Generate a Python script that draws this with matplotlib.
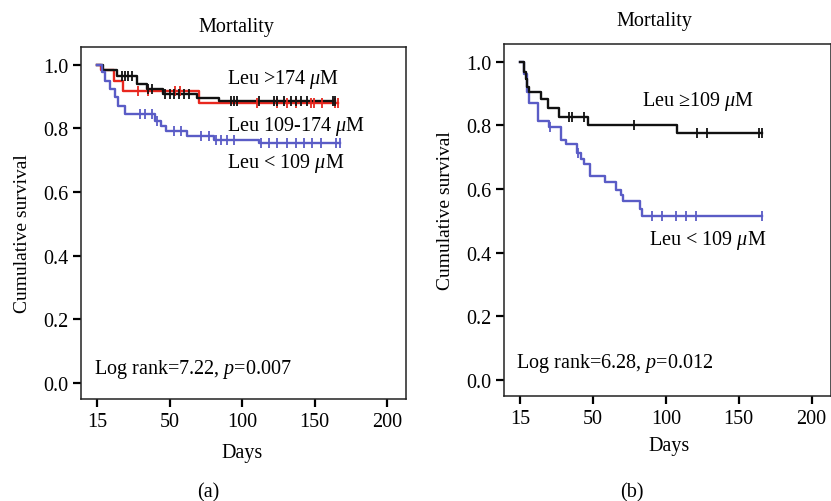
import numpy as np
import matplotlib.pyplot as plt

plt.rcParams['font.family'] = ['Liberation Serif', 'DejaVu Serif']
plt.rcParams['mathtext.fontset'] = 'custom'
plt.rcParams['mathtext.rm'] = 'Liberation Serif'
plt.rcParams['mathtext.it'] = 'Liberation Serif:italic'

# ---- panel (a): three leucine groups ----
a_hi_days = [0, 4.1, 13.7, 27.4, 34.2, 45.2, 69.2, 84.2, 164.4]
a_hi_surv = [1.0, 0.985, 0.966, 0.940, 0.924, 0.910, 0.896, 0.887, 0.887]
a_hi_cens = [17.1, 19.2, 21.2, 24.0, 34.9, 37.7, 46.6, 50.0, 53.4, 56.8, 60.3, 63.7,
             92.5, 94.5, 96.6, 111.6, 121.9, 123.9, 128.8, 133.6, 137.0, 140.4,
             144.5, 163.0, 164.4]

a_mid_days = [0, 2.7, 11.6, 17.8, 70.5, 166.4]
a_mid_surv = [1.0, 0.985, 0.950, 0.919, 0.879, 0.879]
a_mid_cens = [28.1, 34.9, 54.1, 57.5, 110.3, 124.0, 130.8, 137.0, 147.3, 149.3,
              154.8, 164.4, 166.4]

a_lo_days = [0, 3.2, 5.5, 8.9, 12.3, 14.6, 19.2, 39.7, 44.3, 47.7, 62.3, 80.8, 111.6, 167.8]
a_lo_surv = [1.0, 0.977, 0.950, 0.924, 0.898, 0.872, 0.845, 0.824, 0.809, 0.793,
             0.777, 0.763, 0.753, 0.753]
a_lo_cens = [29.5, 32.9, 37.7, 41.1, 53.4, 58.2, 71.9, 77.4, 82.2, 85.6, 89.7, 94.5,
             113.0, 118.5, 124.0, 130.8, 137.0, 142.5, 147.9, 154.1, 165.1, 167.8]

# ---- panel (b): two leucine groups ----
b_hi_days = [0, 2.7, 3.9, 5.0, 6.2, 14.2, 19.5, 26.7, 46.6, 108.0, 166.0]
b_hi_surv = [1.0, 0.969, 0.947, 0.921, 0.905, 0.884, 0.855, 0.827, 0.803, 0.776, 0.776]
b_hi_cens = [33.6, 35.6, 43.8, 78.1, 121.2, 128.1, 163.7, 165.8]

b_lo_days = [0, 2.7, 5.0, 6.2, 12.3, 19.9, 27.9, 31.5, 39.2, 41.6, 43.8, 48.0, 58.2,
             66.1, 69.0, 70.9, 82.2, 83.8, 166.0]
b_lo_surv = [1.0, 0.962, 0.905, 0.870, 0.814, 0.795, 0.755, 0.741, 0.712, 0.694,
             0.680, 0.640, 0.622, 0.596, 0.580, 0.562, 0.536, 0.515, 0.515]
b_lo_cens = [20.5, 39.7, 90.4, 97.3, 106.8, 113.7, 120.5, 165.8]

x_ticks = [0, 50, 100, 150, 200]
x_tick_labels = ['15', '50', '100', '150', '200']
y_ticks = [0.0, 0.2, 0.4, 0.6, 0.8, 1.0]

BLACK = '#111111'
RED = '#e8271e'
BLUE = '#5a5cc6'
FS = 14.5


def km(ax, days, surv, cens, color):
    ax.step(days, surv, where='post', color=color, lw=1.7, zorder=3)
    idx = np.searchsorted(days, cens, side='right') - 1
    ax.plot(cens, np.array(surv)[idx], ls='none', marker='|', ms=7, mew=1.3,
            color=color, zorder=4)


def style(ax):
    ax.set_xlim(-11, 213)
    ax.set_ylim(-0.052, 1.056)
    ax.set_xticks(x_ticks)
    ax.set_xticklabels(x_tick_labels)
    ax.set_yticks(y_ticks)
    ax.set_yticklabels([f'{v:.1f}' for v in y_ticks])
    ax.tick_params(direction='out', length=6, width=1.6, labelsize=FS, pad=3)
    for s in ax.spines.values():
        s.set_linewidth(1.1)
        s.set_color('#222222')


fig = plt.figure(figsize=(8.31, 5.02), dpi=100)

ax1 = fig.add_axes([0.0975, 0.203, 0.391, 0.701])
km(ax1, a_mid_days, a_mid_surv, a_mid_cens, RED)
km(ax1, a_hi_days, a_hi_surv, a_hi_cens, BLACK)
km(ax1, a_lo_days, a_lo_surv, a_lo_cens, BLUE)
style(ax1)
ax1.text(89.7, 0.956, r'Leu >174 $\mu$M', fontsize=FS, va='center')
ax1.text(89.7, 0.808, r'Leu 109-174 $\mu$M', fontsize=FS, va='center')
ax1.text(89.7, 0.693, r'Leu < 109 $\mu$M', fontsize=FS, va='center')
ax1.text(-2, 0.044, r'Log rank=7.22, $p$=0.007', fontsize=FS, va='center')
ax1.text(96, 1.12, 'Mortality', fontsize=FS, ha='center', va='center')
ax1.text(100, -0.221, 'Days', fontsize=FS, ha='center', va='center')

ax2 = fig.add_axes([0.6065, 0.209, 0.393, 0.701])
km(ax2, b_lo_days, b_lo_surv, b_lo_cens, BLUE)
km(ax2, b_hi_days, b_hi_surv, b_hi_cens, BLACK)
style(ax2)
ax2.text(83.6, 0.879, 'Leu \u2265109 $\\mu$M', fontsize=FS, va='center')
ax2.text(88.4, 0.44, r'Leu < 109 $\mu$M', fontsize=FS, va='center')
ax2.text(-2.7, 0.053, r'Log rank=6.28, $p$=0.012', fontsize=FS, va='center')
ax2.text(92, 1.129, 'Mortality', fontsize=FS, ha='center', va='center')
ax2.text(102, -0.207, 'Days', fontsize=FS, ha='center', va='center')

fig.text(23 / 831, 0.534, 'Cumulative survival', fontsize=14, rotation=90,
         ha='center', va='center')
fig.text(445 / 831, 0.580, 'Cumulative survival', fontsize=14, rotation=90,
         ha='center', va='center')
fig.text(208 / 831, 0.018, '(a)', fontsize=FS, ha='center', va='center')
fig.text(632 / 831, 0.018, '(b)', fontsize=FS, ha='center', va='center')

fig.savefig('out.png', dpi=100)
